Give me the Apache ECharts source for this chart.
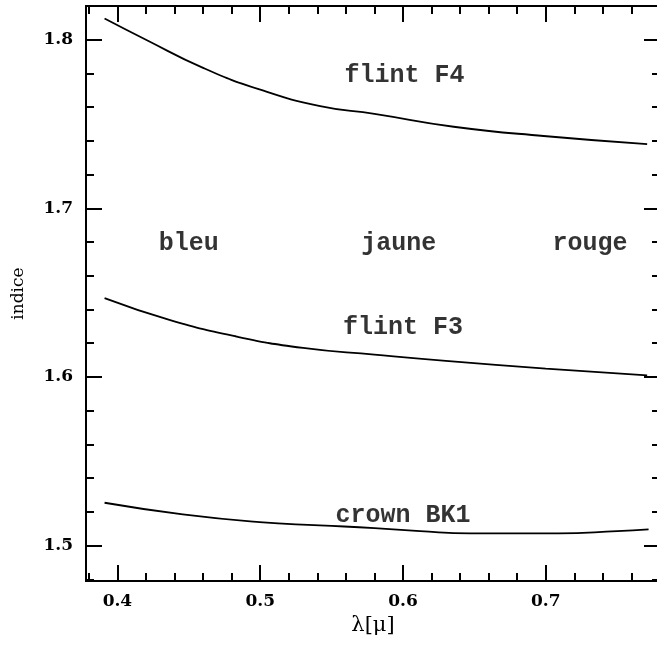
<!DOCTYPE html>
<html>
<head>
<meta charset="utf-8">
<script src="https://cdn.jsdelivr.net/npm/echarts@6/dist/echarts.min.js"></script>
<style>
  html, body { margin: 0; padding: 0; background: #fff; overflow: hidden; }
  /* the frame's right edge sits just past the picture edge, so the chart is a little wider than the window */
  #chart { width: 662px; height: 646px; }
</style>
</head>
<body>
<div id="chart"></div>
<script>
// courbes : [lambda, indice]
var flintF4 = [
  [0.391, 1.8126], [0.420, 1.800], [0.460, 1.7833], [0.4995, 1.7705],
  [0.542, 1.7606], [0.580, 1.7560], [0.6355, 1.7484], [0.6985, 1.7429],
  [0.771, 1.7381]
];
var flintF3 = [
  [0.391, 1.6468], [0.4364, 1.6339], [0.4832, 1.6240], [0.530, 1.6172],
  [0.580, 1.6132], [0.630, 1.6095], [0.700, 1.6050], [0.771, 1.6010]
];
var crownBK1 = [
  [0.391, 1.5254], [0.4458, 1.5185], [0.4995, 1.5139], [0.5416, 1.5120],
  [0.580, 1.5104], [0.612, 1.5086], [0.647, 1.5072], [0.709, 1.5072],
  [0.750, 1.5086], [0.772, 1.5096]
];

// textes dans le cadre : [lambda, indice, texte]
var annotations = [
  [0.601, 1.7784, 'flint F4'],
  [0.600, 1.6291, 'flint F3'],
  [0.600, 1.5177, 'crown BK1'],
  [0.450, 1.6789, 'bleu'],
  [0.597, 1.6789, 'jaune'],
  [0.731, 1.6789, 'rouge']
];

var xMajor = [0.4, 0.5, 0.6, 0.7];
var xMinor = [0.38, 0.42, 0.44, 0.46, 0.48, 0.52, 0.54, 0.56, 0.58,
  0.62, 0.64, 0.66, 0.68, 0.72, 0.74, 0.76, 0.78];
var yMajor = [1.5, 1.6, 1.7, 1.8];
var yMinor = [1.48, 1.52, 1.54, 1.56, 1.58, 1.62, 1.64, 1.66, 1.68,
  1.72, 1.74, 1.76, 1.78, 1.82];

var xMin = 0.378, xMax = 0.78;
var yMin = 1.479, yMax = 1.82;

var chart = echarts.init(document.getElementById('chart'), null, { renderer: 'canvas' });

var tickFont = { color: '#000', fontFamily: 'DejaVu Serif', fontWeight: 'bold', fontSize: 17 };

function axisDef(pos, lo, hi, ticks, len, withLabels, margin) {
  var labels = { show: false };
  if (withLabels) {
    labels = Object.assign({
      show: true, customValues: ticks, margin: margin,
      formatter: function (v) { return v.toFixed(1); }
    }, tickFont);
  }
  return {
    type: 'value',
    position: pos,
    min: lo,
    max: hi,
    splitLine: { show: false },
    axisLine: { show: true, onZero: false, lineStyle: { color: '#000', width: 2 } },
    axisTick: { show: true, inside: true, length: len, customValues: ticks,
      lineStyle: { color: '#000', width: 2 } },
    axisLabel: labels
  };
}

var xAxes = [
  axisDef('bottom', xMin, xMax, xMajor, 16, true, 12),
  axisDef('bottom', xMin, xMax, xMinor, 8, false),
  axisDef('top', xMin, xMax, xMajor, 16, false),
  axisDef('top', xMin, xMax, xMinor, 8, false)
];
xAxes[0].name = 'λ[μ]';
xAxes[0].nameLocation = 'middle';
xAxes[0].nameGap = 34;
xAxes[0].nameTextStyle = { color: '#000', fontFamily: 'DejaVu Serif', fontSize: 21 };

var yAxes = [
  axisDef('left', yMin, yMax, yMajor, 16, true, 13),
  axisDef('left', yMin, yMax, yMinor, 8, false),
  axisDef('right', yMin, yMax, yMajor, 16, false),
  axisDef('right', yMin, yMax, yMinor, 8, false)
];
yAxes[0].name = 'indice';
yAxes[0].nameLocation = 'middle';
yAxes[0].nameGap = 59;
yAxes[0].nameRotate = 90;
yAxes[0].nameTextStyle = { color: '#000', fontFamily: 'DejaVu Serif', fontSize: 17 };

function curve(name, data) {
  return {
    name: name,
    type: 'line',
    data: data,
    smooth: true,
    showSymbol: false,
    silent: true,
    lineStyle: { color: '#000', width: 1.8 }
  };
}

var option = {
  animation: false,
  backgroundColor: '#fff',
  grid: { left: 86, top: 6, right: 2, bottom: 65 },
  xAxis: xAxes,
  yAxis: yAxes,
  series: [
    curve('flint F4', flintF4),
    curve('flint F3', flintF3),
    curve('crown BK1', crownBK1),
    {
      type: 'scatter',
      symbolSize: 0,
      silent: true,
      data: annotations.map(function (a) { return { value: [a[0], a[1]], name: a[2] }; }),
      label: {
        show: true,
        position: 'inside',
        formatter: function (p) { return p.name; },
        color: '#000',
        fontFamily: 'Liberation Mono',
        fontWeight: 'bold',
        fontSize: 25
      }
    }
  ]
};

chart.setOption(option);
</script>
</body>
</html>
